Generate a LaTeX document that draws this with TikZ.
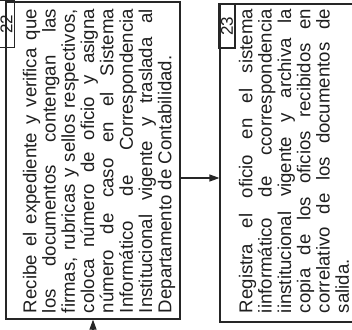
\documentclass[tikz,border=0pt]{standalone}
\usepackage{fontspec}
\setmainfont{Liberation Sans}
\usetikzlibrary{arrows.meta}
\begin{document}
\begin{tikzpicture}[x=1pt,y=-1pt,
  box/.style={draw=black!85, line width=1.2pt, rectangle, inner sep=0pt},
  txt/.style={rotate=90, text width=304pt, align=justify, inner sep=0pt, font=\fontsize{18.6}{19.3}\selectfont, text=black!88},
  num/.style={box, rotate=90, font=\fontsize{17}{18}\selectfont, text=black!88},
  arr/.style={draw=black!85, line width=1.2pt, -{Triangle[length=10pt,width=7pt]}}]
\fill[white] (0,0) rectangle (352,329);
\useasboundingbox (0,0) rectangle (352,329);
% box 22
\node[box, minimum width=174pt, minimum height=317pt] (b22) at (93,160.5) {};
\node[num, minimum width=47pt, minimum height=16pt] (n22) at (6.5,24) {22};
\node[txt] (t22) at (99,161) {\hyphenpenalty=10000\noindent
Recibe el expediente y verifica que\linebreak
los documentos contengan las\linebreak
firmas, rubricas y sellos respectivos,\linebreak
coloca número de oficio y asigna\linebreak
número de caso en el Sistema\linebreak
Informático de Correspondencia\linebreak
Institucional vigente y traslada al\linebreak
Departamento de Contabilidad.};
% box 23
\node[box, minimum width=140pt, minimum height=318pt] (b23) at (290,163) {};
\node[num, minimum width=44pt, minimum height=16pt] (n23) at (227,26) {23};
\node[txt] (t23) at (294,161) {\hyphenpenalty=10000\noindent
Registra el oficio en el sistema\linebreak
iinformático de ccorrespondencia\linebreak
iinstitucional vigente y archiva la\linebreak
copia de los oficios recibidos en\linebreak
correlativo de los documentos de\linebreak
salida.};
% connectors
\coordinate (a) at (0,178);
\draw[arr] (b22.east |- a) -- (b23.west |- a);
\coordinate (s) at (93,330);
\draw[arr] (s) -- (s |- b22.south);
\end{tikzpicture}
\end{document}
